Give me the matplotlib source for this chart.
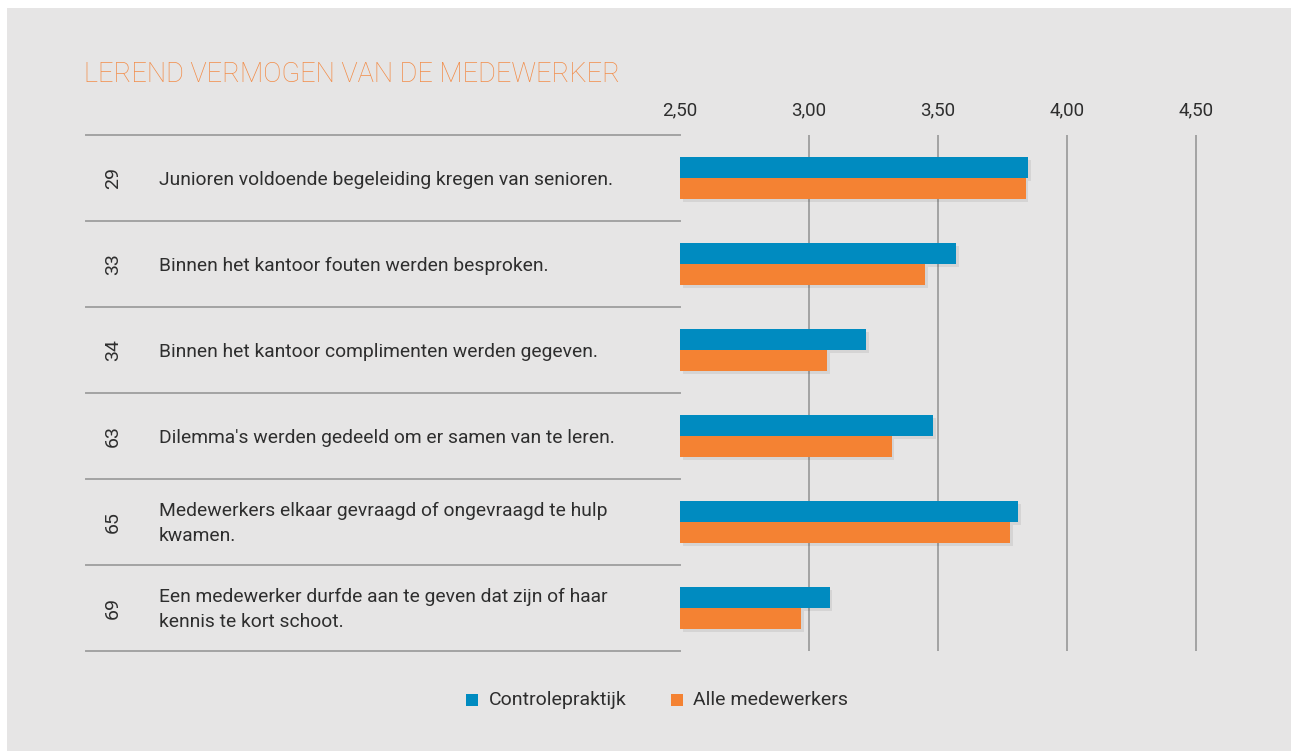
import matplotlib
matplotlib.use("Agg")
import matplotlib.pyplot as plt
import matplotlib.patheffects as pe
from matplotlib.transforms import blended_transform_factory
from matplotlib.patches import Rectangle
import numpy as np

plt.rcParams['font.family'] = ['Roboto', 'DejaVu Sans']

title = "LEREND VERMOGEN VAN DE MEDEWERKER"
numbers = ["29", "33", "34", "63", "65", "69"]
statements = [
    "Junioren voldoende begeleiding kregen van senioren.",
    "Binnen het kantoor fouten werden besproken.",
    "Binnen het kantoor complimenten werden gegeven.",
    "Dilemma's werden gedeeld om er samen van te leren.",
    "Medewerkers elkaar gevraagd of ongevraagd te hulp\nkwamen.",
    "Een medewerker durfde aan te geven dat zijn of haar\nkennis te kort schoot.",
]
controlepraktijk = [3.85, 3.57, 3.22, 3.48, 3.81, 3.08]
alle_medewerkers = [3.84, 3.45, 3.07, 3.32, 3.78, 2.97]
series_names = ["Controlepraktijk", "Alle medewerkers"]
xticks = [2.5, 3.0, 3.5, 4.0, 4.5]
xticklabels = ["2,50", "3,00", "3,50", "4,00", "4,50"]

BLUE = "#008bc0"
ORANGE = "#f48233"
TITLE_C = "#f28c48"
TEXT_C = "#2e2e2e"
GRID_C = "#a3a3a3"
BG = "#e6e5e5"

W, H = 1291, 751
fig = plt.figure(figsize=(W / 100, H / 100), dpi=100)
fig.patch.set_facecolor("white")
# panel background
fig.patches.append(Rectangle((7 / W, 0), (W - 7) / W, 1 - 8 / H, transform=fig.transFigure,
                             facecolor=BG, edgecolor="none", zorder=-10))

x0_px, x1_px = 680, 1260.5
top_px, bot_px = 135, 651
ax = fig.add_axes([x0_px / W, 1 - bot_px / H, (x1_px - x0_px) / W, (bot_px - top_px) / H])
ax.set_facecolor("none")
n = len(numbers)
ax.set_xlim(2.5, 4.75)
ax.set_ylim(n, 0)
for s in ax.spines.values():
    s.set_visible(False)
ax.set_yticks([])
ax.xaxis.tick_top()
ax.set_xticks(xticks)
ax.set_xticklabels(xticklabels, fontsize=13.5, color=TEXT_C)
ax.tick_params(axis="x", length=0, pad=11)

for xv in xticks[1:]:
    ax.axvline(xv, color=GRID_C, lw=1.4, zorder=1)

y = np.arange(n) + 0.5
bh = 0.245
shadow = [pe.SimplePatchShadow(offset=(2, -2), shadow_rgbFace="#000000", alpha=0.07), pe.Normal()]
b1 = ax.barh(y - bh / 2, [v - 2.5 for v in controlepraktijk], left=2.5, height=bh,
             color=BLUE, zorder=3, label=series_names[0])
b2 = ax.barh(y + bh / 2, [v - 2.5 for v in alle_medewerkers], left=2.5, height=bh,
             color=ORANGE, zorder=3, label=series_names[1])
for b in list(b1) + list(b2):
    b.set_path_effects(shadow)

# row separators
tr = blended_transform_factory(fig.transFigure, ax.transData)
for k in range(n + 1):
    ax.plot([86 / W, x0_px / W], [k, k], transform=tr, color=GRID_C, lw=1.4,
            clip_on=False, zorder=2)

for i in range(n):
    ax.text(113 / W, y[i], numbers[i], transform=tr, rotation=90, ha="center", va="center",
            fontsize=14, color=TEXT_C)
    ax.text(159 / W, y[i] + 0.02, statements[i], transform=tr, ha="left", va="center",
            fontsize=13.9, color=TEXT_C, linespacing=1.48)

fig.text(84 / W, 1 - 74 / H, title, ha="left", va="center", fontsize=19.6,
         color=TITLE_C, fontweight="light")

# legend
leg_items = [(466, BLUE, series_names[0], 489), (671, ORANGE, series_names[1], 693)]
for xs, col, lab, xt in leg_items:
    fig.patches.append(Rectangle((xs / W, 1 - 706 / H), 12 / W, 12 / H, transform=fig.transFigure,
                                 facecolor=col, edgecolor="none"))
    fig.text(xt / W, 1 - 700 / H, lab, ha="left", va="center", fontsize=14, color=TEXT_C)

fig.savefig("out.png", dpi=100, facecolor=fig.get_facecolor())
